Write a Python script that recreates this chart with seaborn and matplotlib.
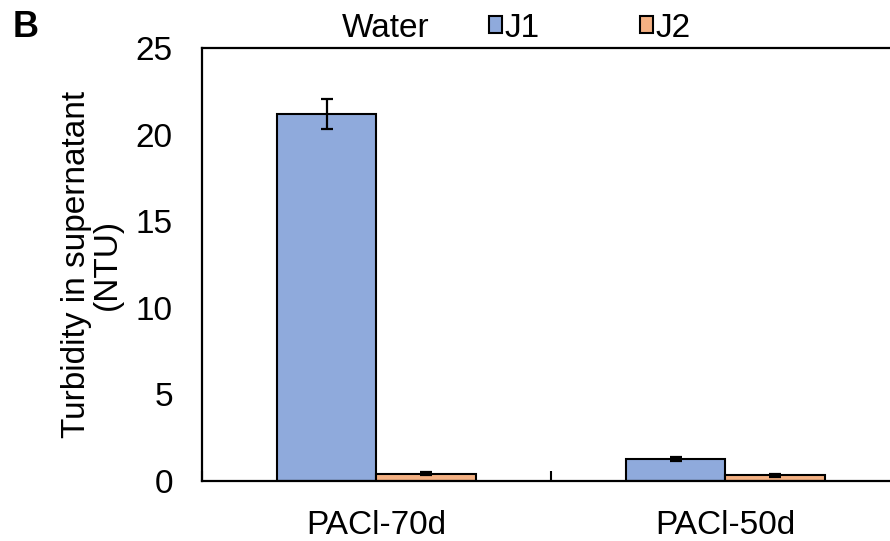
import matplotlib
matplotlib.use("Agg")
import matplotlib.pyplot as plt
from matplotlib.patches import Patch
import seaborn as sns
import pandas as pd

# Turbidity of the supernatant for two coagulants and two waters
coagulants = ["PACl-70d", "PACl-50d"]
waters = ["J1", "J2"]
j1_mean = [21.2, 1.25]
j1_err = [0.85, 0.12]
j2_mean = [0.42, 0.33]
j2_err = [0.08, 0.08]
y_ticks = [0, 5, 10, 15, 20, 25]

colors = {"J1": "#8FAADC", "J2": "#F4B183"}

df = pd.DataFrame({
    "coagulant": coagulants * 2,
    "water": ["J1"] * len(coagulants) + ["J2"] * len(coagulants),
    "turbidity": j1_mean + j2_mean,
    "err": j1_err + j2_err,
})

sns.set_theme(style="white")
plt.rcParams["font.family"] = ["Liberation Sans", "DejaVu Sans"]
for key in ["text.color", "axes.labelcolor", "xtick.color", "ytick.color"]:
    plt.rcParams[key] = "black"

FS = 24

fig = plt.figure(figsize=(8.9, 5.41), dpi=100)
ax = fig.add_axes([0.227, 0.111, 0.784, 0.800])

sns.barplot(data=df, x="coagulant", y="turbidity", hue="water",
            order=coagulants, hue_order=waters, palette=colors,
            width=0.57, errorbar=None, edgecolor="black", linewidth=1.5,
            saturation=1, legend=False, ax=ax)

# error bars centred on each drawn bar
bars = ax.patches
for bar, (_, row) in zip(bars, df.iterrows()):
    xc = bar.get_x() + bar.get_width() / 2
    ax.errorbar(xc, row["turbidity"], yerr=row["err"], fmt="none",
                ecolor="black", elinewidth=1.6, capsize=4.5, capthick=1.6,
                zorder=5)

ax.set_xlim(-0.5, 1.5)
ax.set_ylim(0, 25)
ax.set_yticks(y_ticks)
ax.set_yticklabels([str(v) for v in y_ticks])
ax.set_xticks(range(len(coagulants)))
ax.set_xticklabels(coagulants)
ax.set_xticks([-0.5, 0.5, 1.5], minor=True)
ax.tick_params(axis="x", which="major", length=0, pad=21, labelsize=FS)
ax.tick_params(axis="x", which="minor", direction="in", length=7,
               width=1.5, color="black", bottom=True)
ax.tick_params(axis="y", length=0, pad=21, labelsize=FS)
ax.set_xlabel("")
ax.set_ylabel("Turbidity in supernatant\n(NTU)", fontsize=FS, labelpad=9,
              linespacing=1.0)

for side in ["left", "bottom", "top", "right"]:
    ax.spines[side].set_visible(True)
    ax.spines[side].set_color("black")
    ax.spines[side].set_linewidth(1.6)

fig.text(0.014, 0.95, "B", fontsize=26, fontweight="bold", va="center")
fig.text(0.384, 0.948, "Water", fontsize=FS, va="center")

handles = [Patch(facecolor=colors[w], edgecolor="black", linewidth=1.5)
           for w in waters]
fig.legend(handles, waters, loc="center left", bbox_to_anchor=(0.549, 0.948),
           ncol=2, frameon=False, fontsize=FS, handlelength=0.4,
           handleheight=0.4, handletextpad=0.08, columnspacing=3.0,
           borderaxespad=0, borderpad=0)

fig.savefig("out.png", dpi=100)
